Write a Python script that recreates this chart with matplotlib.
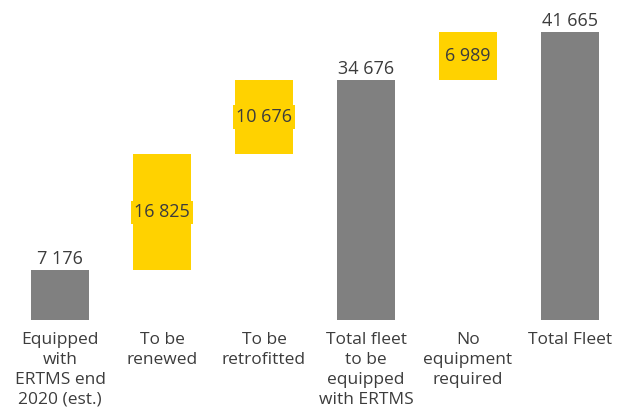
import matplotlib
matplotlib.use("Agg")
import matplotlib.pyplot as plt

categories = ["Equipped\nwith\nERTMS end\n2020 (est.)", "To be\nrenewed", "To be\nretrofitted",
              "Total fleet\nto be\nequipped\nwith ERTMS", "No\nequipment\nrequired", "Total Fleet"]
values = [7176, 16825, 10676, 34676, 6989, 41665]
is_total = [True, False, False, True, False, True]

GREY = "#808080"
YELLOW = "#FFD200"
TEXT = "#3c3c3c"

plt.rcParams["font.family"] = ["Open Sans", "DejaVu Sans"]

fig = plt.figure(figsize=(6.21, 4.12), dpi=100)
ax = fig.add_axes([0, 92 / 412, 1, 320 / 412])
ax.set_xlim(-60 / 102, (621 - 60) / 102)
ax.set_ylim(0, 320 / 288 * 41665)
ax.axis("off")

running = 0
for i, (v, tot) in enumerate(zip(values, is_total)):
    label = f"{v:,}".replace(",", " ")
    if tot:
        ax.bar(i, v, width=0.56, color=GREY)
        ax.text(i, v + 350, label, ha="center", va="bottom", fontsize=13, color=TEXT)
        running = v
    else:
        ax.bar(i, v, bottom=running, width=0.56, color=YELLOW)
        ax.text(i, running + v / 2, label, ha="center", va="center", fontsize=13, color=TEXT,
                bbox=dict(boxstyle="square,pad=0.15", fc=YELLOW, ec="none"))
        running += v
    ax.text(i, -1700, categories[i], ha="center", va="top", fontsize=12.5,
            color=TEXT, linespacing=1.33)

fig.savefig("out.png", dpi=100)
